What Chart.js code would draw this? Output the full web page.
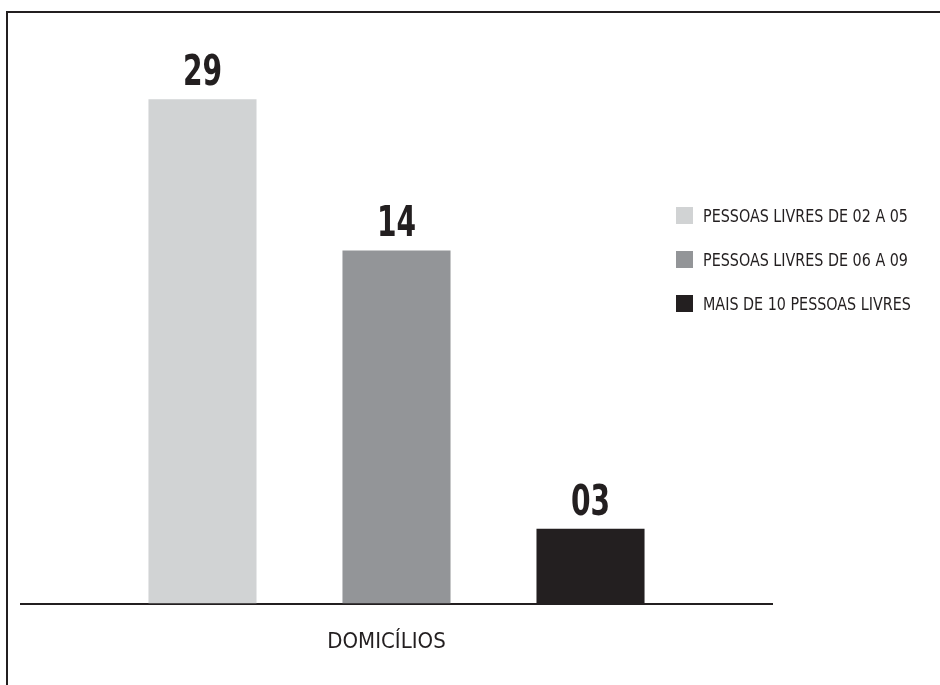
<!DOCTYPE html>
<html>
<head>
<meta charset="utf-8">
<script src="https://cdn.jsdelivr.net/npm/chart.js@4.4.0/dist/chart.umd.min.js"></script>
<style>
  html, body { margin: 0; padding: 0; width: 940px; height: 685px; overflow: hidden; background: #fff; }
  #cadre { position: absolute; left: 6px; top: 11px; width: 1000px; height: 1000px;
           border-top: 2px solid #231f20; border-left: 2px solid #231f20; }
  #zone { position: absolute; left: 0; top: 0; width: 940px; height: 685px; }
  #legende { position: absolute; left: 676px; top: 207px; font-family: "DejaVu Sans Condensed", "DejaVu Sans", sans-serif;
             font-size: 17.5px; color: #231f20; }
  #legende .item { display: flex; align-items: center; height: 17px; margin-bottom: 27px; white-space: nowrap; }
  #legende .carre { width: 17px; height: 17px; margin-right: 10px; flex: none; }
  #legende .texte { display: inline-block; transform: scaleX(0.91); transform-origin: left center; }
</style>
</head>
<body>
<div id="cadre"></div>
<div id="zone"><canvas id="graphique" width="940" height="685"></canvas></div>
<div id="legende"></div>
<script>
// données
const categories = ["DOMICÍLIOS"]
const series = ["PESSOAS LIVRES DE 02 A 05", "PESSOAS LIVRES DE 06 A 09", "MAIS DE 10 PESSOAS LIVRES"]
const valeursAffichees = ["29", "14", "03"]   // nombres écrits au dessus des barres
const hauteurs = [29, 20.3, 4.3]              // hauteur des barres telle que dessinée (même échelle que 29)
const couleurs = ["#d1d3d4", "#939598", "#231f20"]

const police = '"DejaVu Sans Condensed", "DejaVu Sans", sans-serif'

// étiquettes au dessus des barres (chiffres étroits)
const etiquettesBarres = {
  id: "etiquettesBarres",
  afterDatasetsDraw(chart) {
    const ctx = chart.ctx
    chart.data.datasets.forEach((ds, i) => {
      const barre = chart.getDatasetMeta(i).data[0]
      ctx.save()
      ctx.translate(barre.x, barre.y - 14)
      ctx.scale(0.735, 1)
      ctx.font = "bold 42.5px " + police
      ctx.fillStyle = "#231f20"
      ctx.textAlign = "center"
      ctx.textBaseline = "alphabetic"
      ctx.fillText(valeursAffichees[i], 0, 0)
      ctx.restore()
    })
  }
}

let datasets = []
for (let i = 0; i < series.length; i++) {
  datasets.push({
    label: series[i],
    data: [hauteurs[i]],
    backgroundColor: couleurs[i],
    borderWidth: 0,
    categoryPercentage: 0.775,
    barPercentage: 0.557
  })
}

const graphe = new Chart(document.getElementById("graphique"), {
  type: "bar",
  data: { labels: categories, datasets: datasets },
  options: {
    responsive: false,
    animation: false,
    layout: { padding: { left: 21, right: 168, top: 60, bottom: 5 } },
    plugins: { legend: { display: false }, tooltip: { enabled: false } },
    scales: {
      y: { display: false, min: 0, max: 31.25 },
      x: {
        grid: { display: false, drawTicks: false, tickLength: 0 },
        border: { display: true, color: "#231f20", width: 2 },
        ticks: { color: "#231f20", padding: 25, labelOffset: -10, font: { family: police, size: 22 } }
      }
    }
  },
  plugins: [etiquettesBarres]
})

// légende html construite à partir des éléments de légende du graphique
const legende = document.getElementById("legende")
const items = graphe.options.plugins.legend.labels.generateLabels(graphe)
items.forEach(it => {
  const ligne = document.createElement("div")
  ligne.className = "item"
  const carre = document.createElement("span")
  carre.className = "carre"
  carre.style.background = it.fillStyle
  const texte = document.createElement("span")
  texte.className = "texte"
  texte.innerText = it.text
  ligne.appendChild(carre)
  ligne.appendChild(texte)
  legende.appendChild(ligne)
})
</script>
</body>
</html>
